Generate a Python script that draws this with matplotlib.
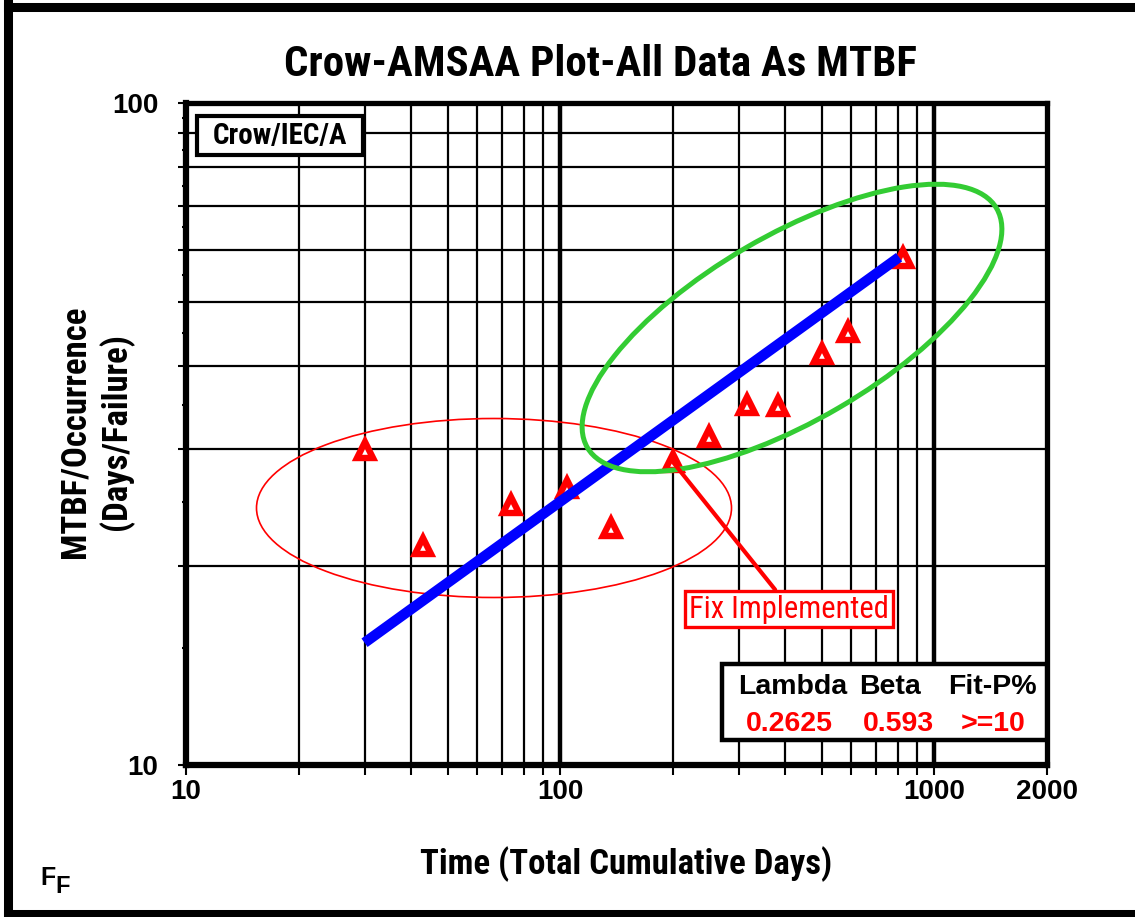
import numpy as np
import matplotlib
matplotlib.use("Agg")
import matplotlib.pyplot as plt
from matplotlib.patches import Ellipse, Rectangle
from matplotlib.lines import Line2D

NARROW = ['Roboto Condensed', 'PT Sans Narrow', 'Liberation Sans', 'DejaVu Sans']
ARIAL = ['Liberation Sans', 'DejaVu Sans']
plt.rcParams['font.family'] = NARROW

# data
time_days = [30, 43, 74, 104, 137, 200, 250, 316, 382, 501, 588, 824]
mtbf = [29.9, 21.4, 24.7, 26.2, 22.8, 28.7, 31.3, 35.0, 34.8, 41.8, 45.1, 58.3]

# fitted Crow-AMSAA line end points
fit_days = [30, 805]
fit_mtbf = [15.3, 58.5]

x_tick_vals = [10, 100, 1000, 2000]
y_tick_vals = [10, 100]
param_names = ['Lambda', 'Beta', 'Fit-P%']
param_vals = ['0.2625', '0.593', '>=10']

W, H = 1135, 917
fig = plt.figure(figsize=(W / 100, H / 100), dpi=100)

# pixel helpers (y measured from top)
def fx(px):
    return px / W

def fy(py):
    return 1 - py / H

ax_l, ax_r, ax_t, ax_b = 186, 1047, 103, 765
ax = fig.add_axes([fx(ax_l), fy(ax_b), (ax_r - ax_l) / W, (ax_b - ax_t) / H])
ax.set_xscale('log')
ax.set_yscale('log')
ax.set_xlim(10, 2000)
ax.set_ylim(10, 100)

# x ticks / grid
x_grid = [v * d for d in (10, 100) for v in range(1, 10)] + [1000, 2000]
ax.set_xticks(x_grid)
ax.set_xticklabels([str(v) if v in x_tick_vals else '' for v in x_grid])
ax.xaxis.set_minor_locator(matplotlib.ticker.NullLocator())
ax.tick_params(axis='x', which='major', direction='out', length=7, width=1.5,
               pad=3, labelsize=20)

# y ticks / grid
y_grid = list(range(10, 101, 10))
ax.set_yticks(y_grid)
ax.set_yticklabels([str(v) if v in y_tick_vals else '' for v in y_grid])
ax.set_yticks(list(range(15, 100, 10)), minor=True)
ax.yaxis.set_minor_formatter(matplotlib.ticker.NullFormatter())
ax.tick_params(axis='y', which='major', direction='out', length=6, width=1.5,
               pad=14, labelsize=20)
ax.tick_params(axis='y', which='minor', direction='out', length=3, width=1.5)
for lab in ax.get_xticklabels() + ax.get_yticklabels():
    lab.set_family(ARIAL)
    lab.set_fontweight('bold')

ax.grid(True, which='major', color='black', linewidth=1.6)
ax.set_axisbelow(True)
for v in (100, 1000):
    ax.axvline(v, color='black', linewidth=3.2, zorder=1)

ax.spines['left'].set_linewidth(4.5)
ax.spines['bottom'].set_linewidth(4.5)
ax.spines['top'].set_linewidth(3.8)
ax.spines['right'].set_linewidth(3.8)

# red ellipse (early data), drawn in pixel space
ax.add_patch(Ellipse((494 / 100, (H - 508) / 100), 4.75, 1.79, angle=0,
                     transform=fig.dpi_scale_trans, fill=False,
                     edgecolor='red', linewidth=1.2, zorder=3, clip_on=False))

ax.plot(time_days, mtbf, linestyle='none', marker='^', markersize=11,
        markerfacecolor='white', markeredgecolor='red', markeredgewidth=4.6,
        zorder=4)

ax.plot(fit_days, fit_mtbf, color='#0000ff', linewidth=7.5,
        solid_capstyle='butt', zorder=5)

# green ellipse (after fix)
ax.add_patch(Ellipse((792 / 100, (H - 328) / 100), 4.74, 1.85, angle=30.3,
                     transform=fig.dpi_scale_trans, fill=False,
                     edgecolor='#33cc33', linewidth=3.6, zorder=6, clip_on=False))

# Fix Implemented callout
ax.annotate('Fix Implemented', xy=(time_days[5], mtbf[5]),
            xytext=(fx(789), fy(609)), textcoords='figure fraction',
            ha='center', va='center', fontsize=22, color='red',
            bbox=dict(boxstyle='square,pad=0.12', facecolor='white',
                      edgecolor='red', linewidth=2.4),
            arrowprops=dict(arrowstyle='-', color='red', linewidth=3,
                            shrinkA=0, shrinkB=0, relpos=(0.45, 1.0)),
            zorder=7)

# outer frame
for (x0, y0, x1, y1) in [(8, 7, 1135, 7), (8, 3, 8, 917), (8, 914, 1135, 914)]:
    fig.add_artist(Line2D([fx(x0), fx(x1)], [fy(y0), fy(y1)], color='black',
                          linewidth=6.5, solid_capstyle='projecting'))

# title
fig.text(fx(600), fy(64), 'Crow-AMSAA Plot-All Data As MTBF', ha='center',
         va='center', fontsize=31, fontweight='bold')

# axis labels
fig.text(fx(626), fy(864), 'Time (Total Cumulative Days)', ha='center',
         va='center', fontsize=25, fontweight='bold')
fig.text(fx(96), fy(432), 'MTBF/Occurrence\n(Days/Failure)', ha='center',
         va='center', fontsize=25, fontweight='bold', rotation=90,
         linespacing=1.25, multialignment='center')

# Crow/IEC/A label box
fig.add_artist(Rectangle((fx(197), fy(155)), (363 - 197) / W, (155 - 116) / H,
                         transform=fig.transFigure, facecolor='white',
                         edgecolor='black', linewidth=3, zorder=5))
fig.text(fx(280), fy(136), 'Crow/IEC/A', ha='center', va='center',
         fontsize=21, fontweight='bold', zorder=6)

# parameter box
fig.add_artist(Rectangle((fx(722), fy(740)), (1047 - 722) / W, (740 - 664) / H,
                         transform=fig.transFigure, facecolor='white',
                         edgecolor='black', linewidth=3.2, zorder=5))
name_x = [793, 890, 992]
val_x = [789, 898, 993]
for nm, vl, nx, vx in zip(param_names, param_vals, name_x, val_x):
    fig.text(fx(nx), fy(687), nm, ha='center', va='center', fontsize=20.5,
             fontweight='bold', family=ARIAL, zorder=6)
    fig.text(fx(vx), fy(724), vl, ha='center', va='center', fontsize=20.5,
             fontweight='bold', color='red', family=ARIAL, zorder=6)

# FF mark
fig.text(fx(40), fy(885), 'F', ha='left', va='baseline', fontsize=18,
         fontweight='bold', family=ARIAL)
fig.text(fx(55), fy(893), 'F', ha='left', va='baseline', fontsize=17,
         fontweight='bold', family=ARIAL)

fig.savefig('out.png', dpi=100)
